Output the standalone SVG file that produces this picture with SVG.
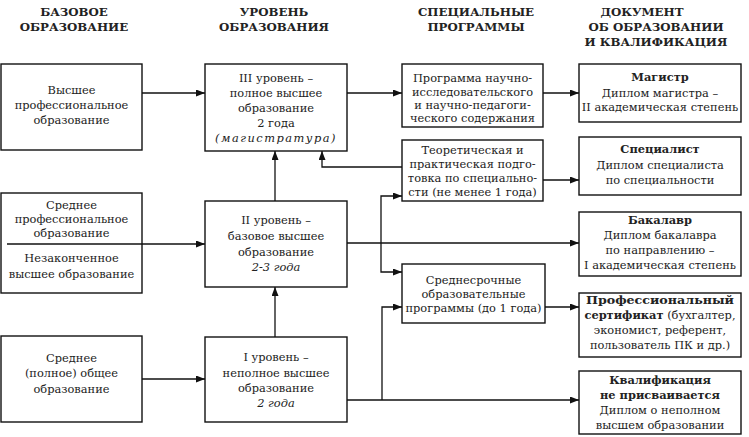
<svg xmlns="http://www.w3.org/2000/svg" width="749" height="437" viewBox="0 0 749 437">
<style>
  .box{fill:#fff;stroke:#111;stroke-width:1.4}
  .t{font-family:"DejaVu Serif","Liberation Serif",serif;font-size:11.4px;fill:#222;text-anchor:middle}
  .h{font-family:"DejaVu Serif","Liberation Serif",serif;font-size:11.8px;font-weight:bold;fill:#222;text-anchor:middle}
  .b{font-weight:bold}
  .i{font-style:italic}
  .c{fill:none;stroke:#111;stroke-width:1.3}
</style>
<defs>
  <marker id="ar" markerUnits="userSpaceOnUse" markerWidth="10" markerHeight="8" refX="9" refY="3.5" orient="auto">
    <path d="M0,0 L9,3.5 L0,7 z" fill="#111"/>
  </marker>
</defs>
<rect width="749" height="437" fill="#fff"/>

<g id="headers">
  <text class="h" x="74" y="16">БАЗОВОЕ</text>
  <text class="h" x="74" y="31">ОБРАЗОВАНИЕ</text>
  <text class="h" x="274" y="16">УРОВЕНЬ</text>
  <text class="h" x="274" y="31">ОБРАЗОВАНИЯ</text>
  <text class="h" x="476" y="16">СПЕЦИАЛЬНЫЕ</text>
  <text class="h" x="476" y="31">ПРОГРАММЫ</text>
  <text class="h" x="642" y="16">ДОКУМЕНТ</text>
  <text class="h" x="656" y="31">ОБ ОБРАЗОВАНИИ</text>
  <text class="h" x="656" y="46">И КВАЛИФИКАЦИЯ</text>
</g>

<g id="connectors">
  <path class="c" d="M142 93 H205" marker-end="url(#ar)"/>
  <path class="c" d="M347 93 H402" marker-end="url(#ar)"/>
  <path class="c" d="M543 93 H579" marker-end="url(#ar)"/>
  <path class="c" d="M543 180 H579" marker-end="url(#ar)"/>
  <path class="c" d="M402 167 H322 V151" marker-end="url(#ar)"/>
  <path class="c" d="M275 201 V151" marker-end="url(#ar)"/>
  <path class="c" d="M7 244 H205" marker-end="url(#ar)"/>
  <path class="c" d="M347 243 H579" marker-end="url(#ar)"/>
  <path class="c" d="M381 243 V196 H402" marker-end="url(#ar)"/>
  <path class="c" d="M381 243 V272 H402" marker-end="url(#ar)"/>
  <path class="c" d="M347 400 H579" marker-end="url(#ar)"/>
  <path class="c" d="M382 400 V307 H402" marker-end="url(#ar)"/>
  <path class="c" d="M545 307 H579" marker-end="url(#ar)"/>
  <path class="c" d="M275 337 V287" marker-end="url(#ar)"/>
  <path class="c" d="M142 379 H205" marker-end="url(#ar)"/>
</g>

<g id="n-higher-prof">
  <rect class="box" x="1" y="64" width="141" height="86"/>
  <text class="t" x="71.5" y="94">Высшее</text>
  <text class="t" x="71.5" y="109">профессиональное</text>
  <text class="t" x="71.5" y="124">образование</text>
</g>

<g id="n-secondary-prof">
  <rect class="box" x="1" y="193" width="141" height="100"/>
  <text class="t" x="71.5" y="209">Среднее</text>
  <text class="t" x="71.5" y="223">профессиональное</text>
  <text class="t" x="71.5" y="237">образование</text>
  <path class="c" d="M7 244 H142"/>
  <text class="t" x="71.5" y="262">Незаконченное</text>
  <text class="t" x="71.5" y="278">высшее образование</text>
</g>

<g id="n-secondary-general">
  <rect class="box" x="1" y="336" width="141" height="86"/>
  <text class="t" x="71.5" y="362">Среднее</text>
  <text class="t" x="71.5" y="377">(полное) общее</text>
  <text class="t" x="71.5" y="393">образование</text>
</g>

<g id="n-level3">
  <rect class="box" x="205" y="64" width="142" height="87"/>
  <text class="t" x="276" y="82">III уровень –</text>
  <text class="t" x="276" y="97">полное высшее</text>
  <text class="t" x="276" y="112">образование</text>
  <text class="t" x="276" y="127">2 года</text>
  <text class="t i" x="276" y="142" letter-spacing="1.5">(магистратура)</text>
</g>

<g id="n-level2">
  <rect class="box" x="205" y="201" width="142" height="86"/>
  <text class="t" x="276" y="224">II уровень –</text>
  <text class="t" x="276" y="240">базовое высшее</text>
  <text class="t" x="276" y="256">образование</text>
  <text class="t i" x="276" y="271">2-3 года</text>
</g>

<g id="n-level1">
  <rect class="box" x="205" y="337" width="142" height="85"/>
  <text class="t" x="276" y="361">I уровень –</text>
  <text class="t" x="276" y="377">неполное высшее</text>
  <text class="t" x="276" y="392">образование</text>
  <text class="t i" x="276" y="407">2 года</text>
</g>

<g id="n-research">
  <rect class="box" x="402" y="64" width="141" height="63"/>
  <text class="t" x="472.5" y="82">Программа научно-</text>
  <text class="t" x="472.5" y="96">исследовательского</text>
  <text class="t" x="472.5" y="109">и научно-педагоги-</text>
  <text class="t" x="472.5" y="122">ческого содержания</text>
</g>

<g id="n-theory">
  <rect class="box" x="402" y="140" width="141" height="61"/>
  <text class="t" x="472.5" y="154">Теоретическая и</text>
  <text class="t" x="472.5" y="168">практическая подго-</text>
  <text class="t" x="472.5" y="182">товка по специально-</text>
  <text class="t" x="472.5" y="196">сти (не менее 1 года)</text>
</g>

<g id="n-midterm">
  <rect class="box" x="402" y="264" width="143" height="59"/>
  <text class="t" x="473.5" y="284">Среднесрочные</text>
  <text class="t" x="473.5" y="298">образовательные</text>
  <text class="t" x="473.5" y="312">программы (до 1 года)</text>
</g>

<g id="n-master">
  <rect class="box" x="579" y="64" width="162" height="58"/>
  <text class="t b" x="660" y="81">Магистр</text>
  <text class="t" x="660" y="97">Диплом магистра –</text>
  <text class="t" x="660" y="111">II академическая степень</text>
</g>

<g id="n-specialist">
  <rect class="box" x="579" y="137" width="162" height="58"/>
  <text class="t b" x="660" y="153">Специалист</text>
  <text class="t" x="660" y="169">Диплом специалиста</text>
  <text class="t" x="660" y="184">по специальности</text>
</g>

<g id="n-bachelor">
  <rect class="box" x="579" y="212" width="162" height="64"/>
  <text class="t b" x="660" y="224">Бакалавр</text>
  <text class="t" x="660" y="239">Диплом бакалавра</text>
  <text class="t" x="660" y="254">по направлению –</text>
  <text class="t" x="660" y="269">I академическая степень</text>
</g>

<g id="n-certificate">
  <rect class="box" x="579" y="293" width="162" height="64"/>
  <text class="t b" x="660" y="304" textLength="148" lengthAdjust="spacingAndGlyphs">Профессиональный</text>
  <text class="t" x="660" y="319"><tspan class="b">сертификат</tspan> (бухгалтер,</text>
  <text class="t" x="660" y="334">экономист, референт,</text>
  <text class="t" x="660" y="349">пользователь ПК и др.)</text>
</g>

<g id="n-noqual">
  <rect class="box" x="579" y="371" width="162" height="63"/>
  <text class="t b" x="660" y="384">Квалификация</text>
  <text class="t b" x="660" y="399">не присваивается</text>
  <text class="t" x="660" y="414">Диплом о неполном</text>
  <text class="t" x="660" y="429">высшем образовании</text>
</g>
</svg>
